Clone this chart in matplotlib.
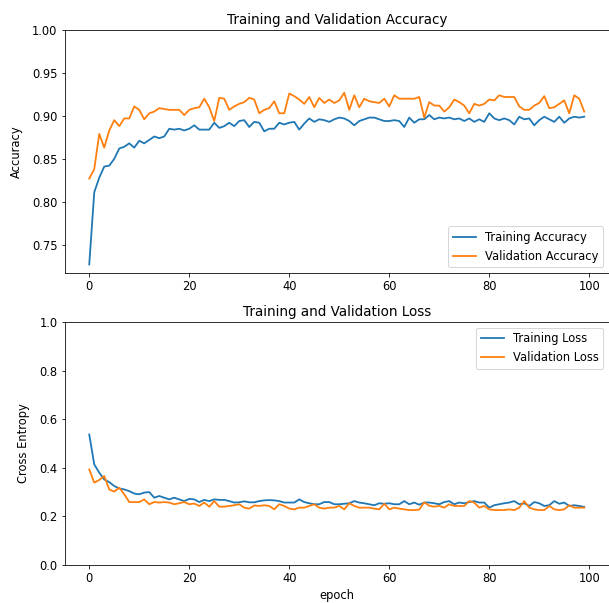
import matplotlib
matplotlib.use("Agg")
import matplotlib.pyplot as plt

acc = [0.727, 0.811, 0.828, 0.841, 0.842, 0.850, 0.862, 0.864, 0.868, 0.863,
       0.871, 0.868, 0.872, 0.876, 0.874, 0.876, 0.885, 0.884, 0.885, 0.883,
       0.885, 0.889, 0.884, 0.884, 0.884, 0.892, 0.886, 0.888, 0.892, 0.888,
       0.894, 0.895, 0.887, 0.893, 0.892, 0.882, 0.885, 0.885, 0.892, 0.890,
       0.892, 0.893, 0.884, 0.891, 0.897, 0.893, 0.896, 0.895, 0.893, 0.896,
       0.898, 0.897, 0.894, 0.889, 0.894, 0.896, 0.898, 0.898, 0.896, 0.894,
       0.894, 0.895, 0.894, 0.887, 0.898, 0.892, 0.896, 0.896, 0.901, 0.896,
       0.898, 0.897, 0.898, 0.896, 0.897, 0.894, 0.897, 0.893, 0.896, 0.893,
       0.903, 0.897, 0.895, 0.897, 0.895, 0.890, 0.899, 0.896, 0.897, 0.889,
       0.895, 0.899, 0.896, 0.893, 0.899, 0.892, 0.897, 0.899, 0.898, 0.899]

val_acc = [0.827, 0.838, 0.879, 0.863, 0.883, 0.895, 0.888, 0.897, 0.897, 0.911,
           0.907, 0.896, 0.903, 0.905, 0.909, 0.908, 0.907, 0.907, 0.907, 0.901,
           0.907, 0.909, 0.910, 0.920, 0.910, 0.894, 0.921, 0.920, 0.907, 0.911,
           0.914, 0.916, 0.921, 0.919, 0.903, 0.907, 0.909, 0.917, 0.903, 0.903,
           0.926, 0.923, 0.919, 0.914, 0.922, 0.910, 0.921, 0.915, 0.919, 0.915,
           0.918, 0.927, 0.907, 0.924, 0.910, 0.920, 0.917, 0.916, 0.915, 0.920,
           0.911, 0.924, 0.920, 0.920, 0.920, 0.920, 0.922, 0.898, 0.916, 0.912,
           0.912, 0.905, 0.910, 0.919, 0.916, 0.912, 0.903, 0.914, 0.912, 0.914,
           0.919, 0.918, 0.924, 0.922, 0.922, 0.922, 0.911, 0.907, 0.907, 0.912,
           0.915, 0.923, 0.909, 0.910, 0.914, 0.918, 0.903, 0.924, 0.920, 0.905]

loss = [0.537, 0.414, 0.380, 0.352, 0.341, 0.325, 0.315, 0.311, 0.304, 0.294,
        0.291, 0.298, 0.300, 0.277, 0.284, 0.277, 0.270, 0.277, 0.270, 0.263,
        0.272, 0.270, 0.259, 0.268, 0.263, 0.270, 0.268, 0.268, 0.263, 0.257,
        0.258, 0.262, 0.258, 0.258, 0.263, 0.266, 0.267, 0.266, 0.263, 0.257,
        0.257, 0.257, 0.270, 0.259, 0.254, 0.250, 0.250, 0.259, 0.259, 0.250,
        0.250, 0.252, 0.254, 0.263, 0.257, 0.254, 0.250, 0.246, 0.254, 0.252,
        0.254, 0.250, 0.250, 0.263, 0.250, 0.257, 0.248, 0.257, 0.257, 0.254,
        0.250, 0.259, 0.263, 0.250, 0.257, 0.254, 0.259, 0.263, 0.257, 0.257,
        0.236, 0.246, 0.250, 0.254, 0.257, 0.263, 0.250, 0.254, 0.243, 0.259,
        0.254, 0.243, 0.246, 0.263, 0.252, 0.257, 0.243, 0.246, 0.243, 0.239]

val_loss = [0.393, 0.339, 0.350, 0.366, 0.311, 0.302, 0.318, 0.291, 0.259, 0.259,
            0.259, 0.270, 0.250, 0.259, 0.257, 0.259, 0.257, 0.250, 0.254, 0.259,
            0.250, 0.253, 0.243, 0.257, 0.240, 0.263, 0.240, 0.240, 0.243, 0.246,
            0.250, 0.236, 0.232, 0.245, 0.243, 0.246, 0.243, 0.229, 0.250, 0.243,
            0.232, 0.229, 0.236, 0.236, 0.243, 0.250, 0.236, 0.232, 0.236, 0.236,
            0.243, 0.229, 0.254, 0.243, 0.236, 0.236, 0.236, 0.232, 0.229, 0.252,
            0.229, 0.236, 0.232, 0.229, 0.226, 0.226, 0.228, 0.258, 0.244, 0.240,
            0.243, 0.236, 0.250, 0.243, 0.243, 0.243, 0.263, 0.257, 0.236, 0.243,
            0.229, 0.226, 0.226, 0.226, 0.229, 0.226, 0.236, 0.263, 0.236, 0.229,
            0.226, 0.226, 0.243, 0.229, 0.226, 0.229, 0.246, 0.236, 0.236, 0.236]

epochs = list(range(len(acc)))

plt.rcParams['font.size'] = 11.5
plt.rcParams['axes.titlesize'] = 13.5
plt.rcParams['lines.linewidth'] = 1.8

fig = plt.figure(figsize=(609 / 72, 603 / 72), dpi=72)

# top: accuracy
ax1 = fig.add_axes([64.5 / 609, 1 - 273 / 603, 544.5 / 609, 243 / 603])
ax1.plot(epochs, acc, label='Training Accuracy')
ax1.plot(epochs, val_acc, label='Validation Accuracy')
ax1.legend(loc='lower right')
ax1.set_ylabel('Accuracy', labelpad=9)
ax1.set_ylim([min(ax1.get_ylim()), 1])
ax1.set_title('Training and Validation Accuracy')

# bottom: loss
ax2 = fig.add_axes([64.5 / 609, 1 - 565 / 603, 544.5 / 609, 243 / 603])
ax2.plot(epochs, loss, label='Training Loss')
ax2.plot(epochs, val_loss, label='Validation Loss')
ax2.legend(loc='upper right')
ax2.set_ylabel('Cross Entropy', labelpad=9)
ax2.set_ylim([0, 1.0])
ax2.set_title('Training and Validation Loss')
ax2.set_xlabel('epoch')

fig.savefig('out.png', dpi=72)
